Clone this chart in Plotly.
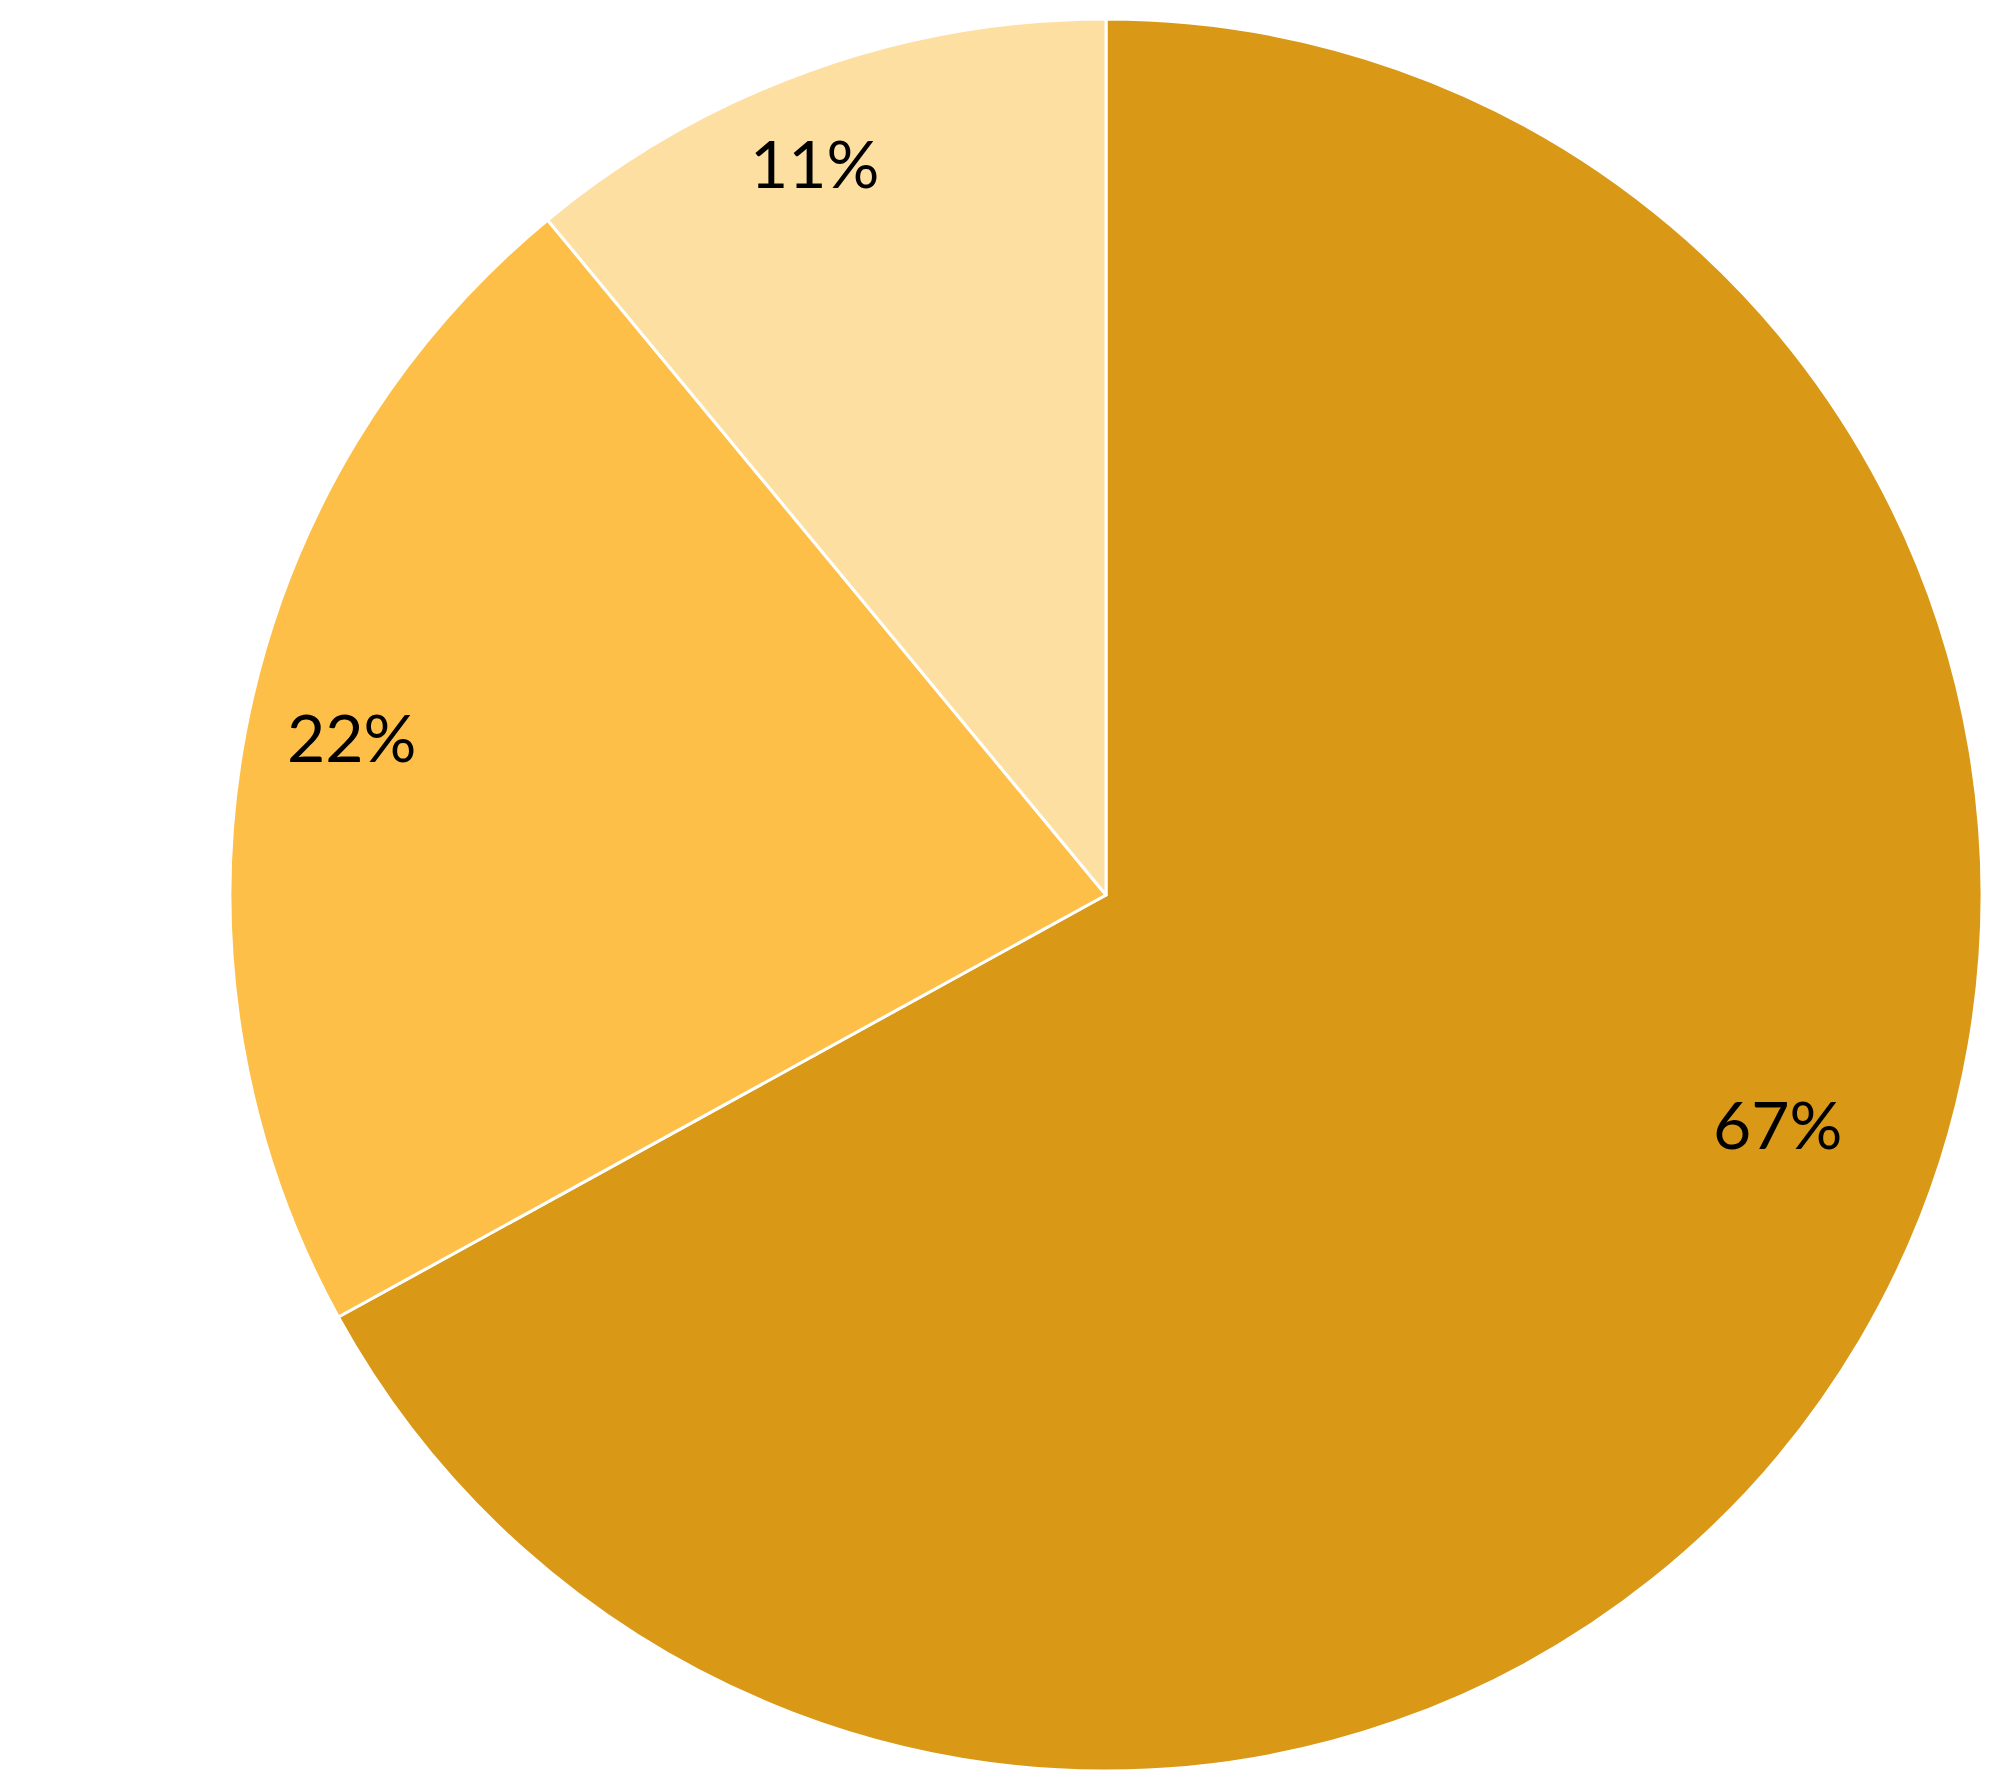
import math
import plotly.graph_objects as go

labels = ["A", "B", "C"]
values = [67, 22, 11]
colors = ["#D99816", "#FEBF48", "#FEDFA2"]

# label placement style (fraction of radius, angular nudge in degrees)
label_radius = [0.81, 0.88, 0.90]
label_nudge = [-11.8, 1.1, -1.9]

W, H = 2000, 1774
ML, MR, MT, MB = 221, 25, 11, 11
plot_w, plot_h = W - ML - MR, H - MT - MB

fig = go.Figure(go.Pie(
    labels=labels,
    values=values,
    sort=False,
    direction="clockwise",
    rotation=0,
    marker=dict(colors=colors, line=dict(color="white", width=3)),
    textinfo="none",
    hoverinfo="label+percent",
))

# percentage labels placed along each slice's mid-angle
total = sum(values)
R = min(plot_w, plot_h) / 2
cx, cy = plot_w / 2, plot_h / 2
cum = 0
for v, rf, nd in zip(values, label_radius, label_nudge):
    mid = (cum + v / 2) / total * 360 + nd
    cum += v
    th = math.radians(mid)
    px = cx + rf * R * math.sin(th)
    py = cy + rf * R * math.cos(th)
    fig.add_annotation(
        x=px / plot_w, y=py / plot_h, xref="paper", yref="paper",
        text=f"{round(v / total * 100)}%", showarrow=False,
        xanchor="center", yanchor="middle",
        font=dict(family="Lato", size=66, color="black"),
    )

fig.update_layout(
    width=W, height=H,
    margin=dict(l=ML, r=MR, t=MT, b=MB),
    showlegend=False,
    paper_bgcolor="white",
    plot_bgcolor="white",
)

fig.write_html("out.html")
